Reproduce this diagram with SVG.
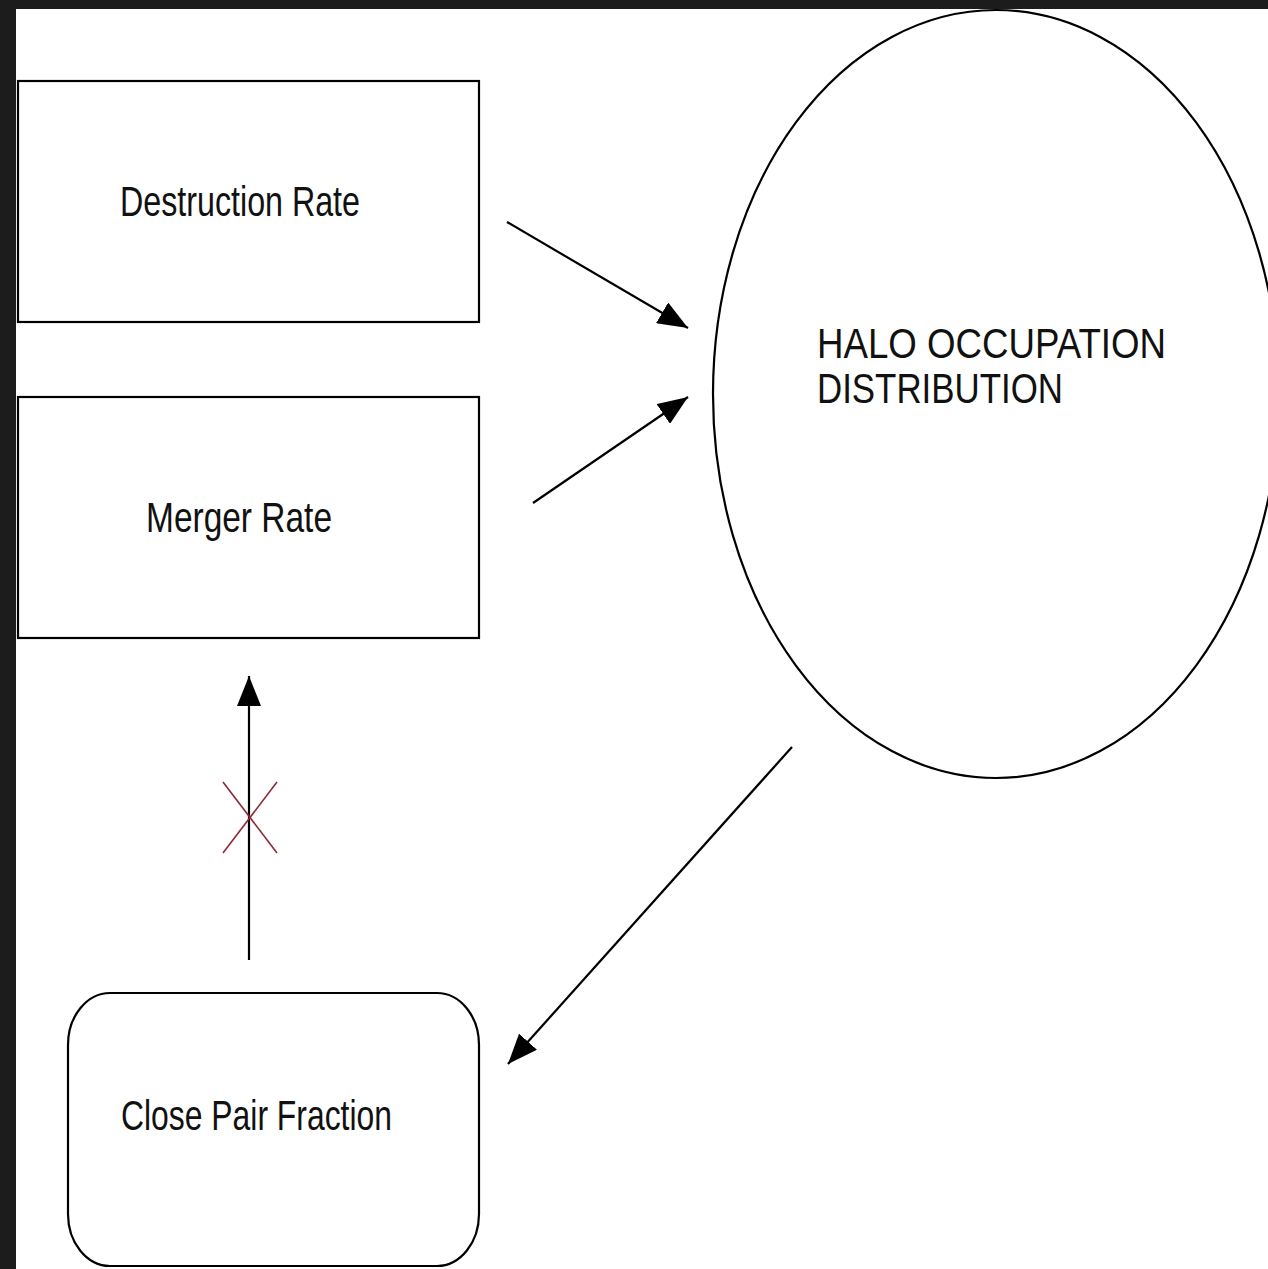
<svg xmlns="http://www.w3.org/2000/svg" width="1268" height="1269" viewBox="0 0 1268 1269">
<style>
.node{fill:#fff;stroke:#000;stroke-width:2.2}
.lbl{font-family:"Liberation Sans",Arial,sans-serif;font-size:42px;fill:#111}
.conn{stroke:#000;stroke-width:2.2;fill:none}
</style>
<defs>
<marker id="ah" markerUnits="userSpaceOnUse" viewBox="0 0 30 24" markerWidth="30" markerHeight="24" refX="30" refY="12" orient="auto">
<path d="M0,0 L30,12 L0,24 z" fill="#000"/>
</marker>
</defs>
<rect x="0" y="0" width="1268" height="1269" fill="#fff"/>
<rect x="0" y="0" width="1268" height="9" fill="#1c1c1c"/>
<rect x="0" y="0" width="16" height="1269" fill="#1c1c1c"/>
<g id="destruction-rate">
<rect class="node" x="18" y="81" width="461" height="241"/>
<text class="lbl" x="120" y="216" textLength="240" lengthAdjust="spacingAndGlyphs">Destruction Rate</text>
</g>
<g id="merger-rate">
<rect class="node" x="18" y="397" width="461" height="241"/>
<text class="lbl" x="146" y="532" textLength="186" lengthAdjust="spacingAndGlyphs">Merger Rate</text>
</g>
<g id="halo-occupation">
<ellipse class="node" cx="996" cy="394" rx="283" ry="384"/>
<text class="lbl" x="817" y="358" font-size="45" textLength="349" lengthAdjust="spacingAndGlyphs">HALO OCCUPATION</text>
<text class="lbl" x="817" y="403" font-size="45" textLength="246" lengthAdjust="spacingAndGlyphs">DISTRIBUTION</text>
</g>
<g id="close-pair-fraction">
<rect class="node" x="68" y="993" width="411" height="273" rx="42" ry="52"/>
<text class="lbl" x="121" y="1130" textLength="271" lengthAdjust="spacingAndGlyphs">Close Pair Fraction</text>
</g>
<g id="connectors">
<line class="conn" x1="507" y1="222" x2="688" y2="328" marker-end="url(#ah)"/>
<line class="conn" x1="533" y1="503" x2="688" y2="397" marker-end="url(#ah)"/>
<line class="conn" x1="792" y1="747" x2="508" y2="1064" marker-end="url(#ah)"/>
<line class="conn" x1="249" y1="960" x2="249" y2="676" marker-end="url(#ah)"/>
<line x1="223" y1="782" x2="277" y2="853" stroke="#8a2a36" stroke-width="1.6"/>
<line x1="277" y1="782" x2="223" y2="853" stroke="#8a2a36" stroke-width="1.6"/>
</g>
</svg>
